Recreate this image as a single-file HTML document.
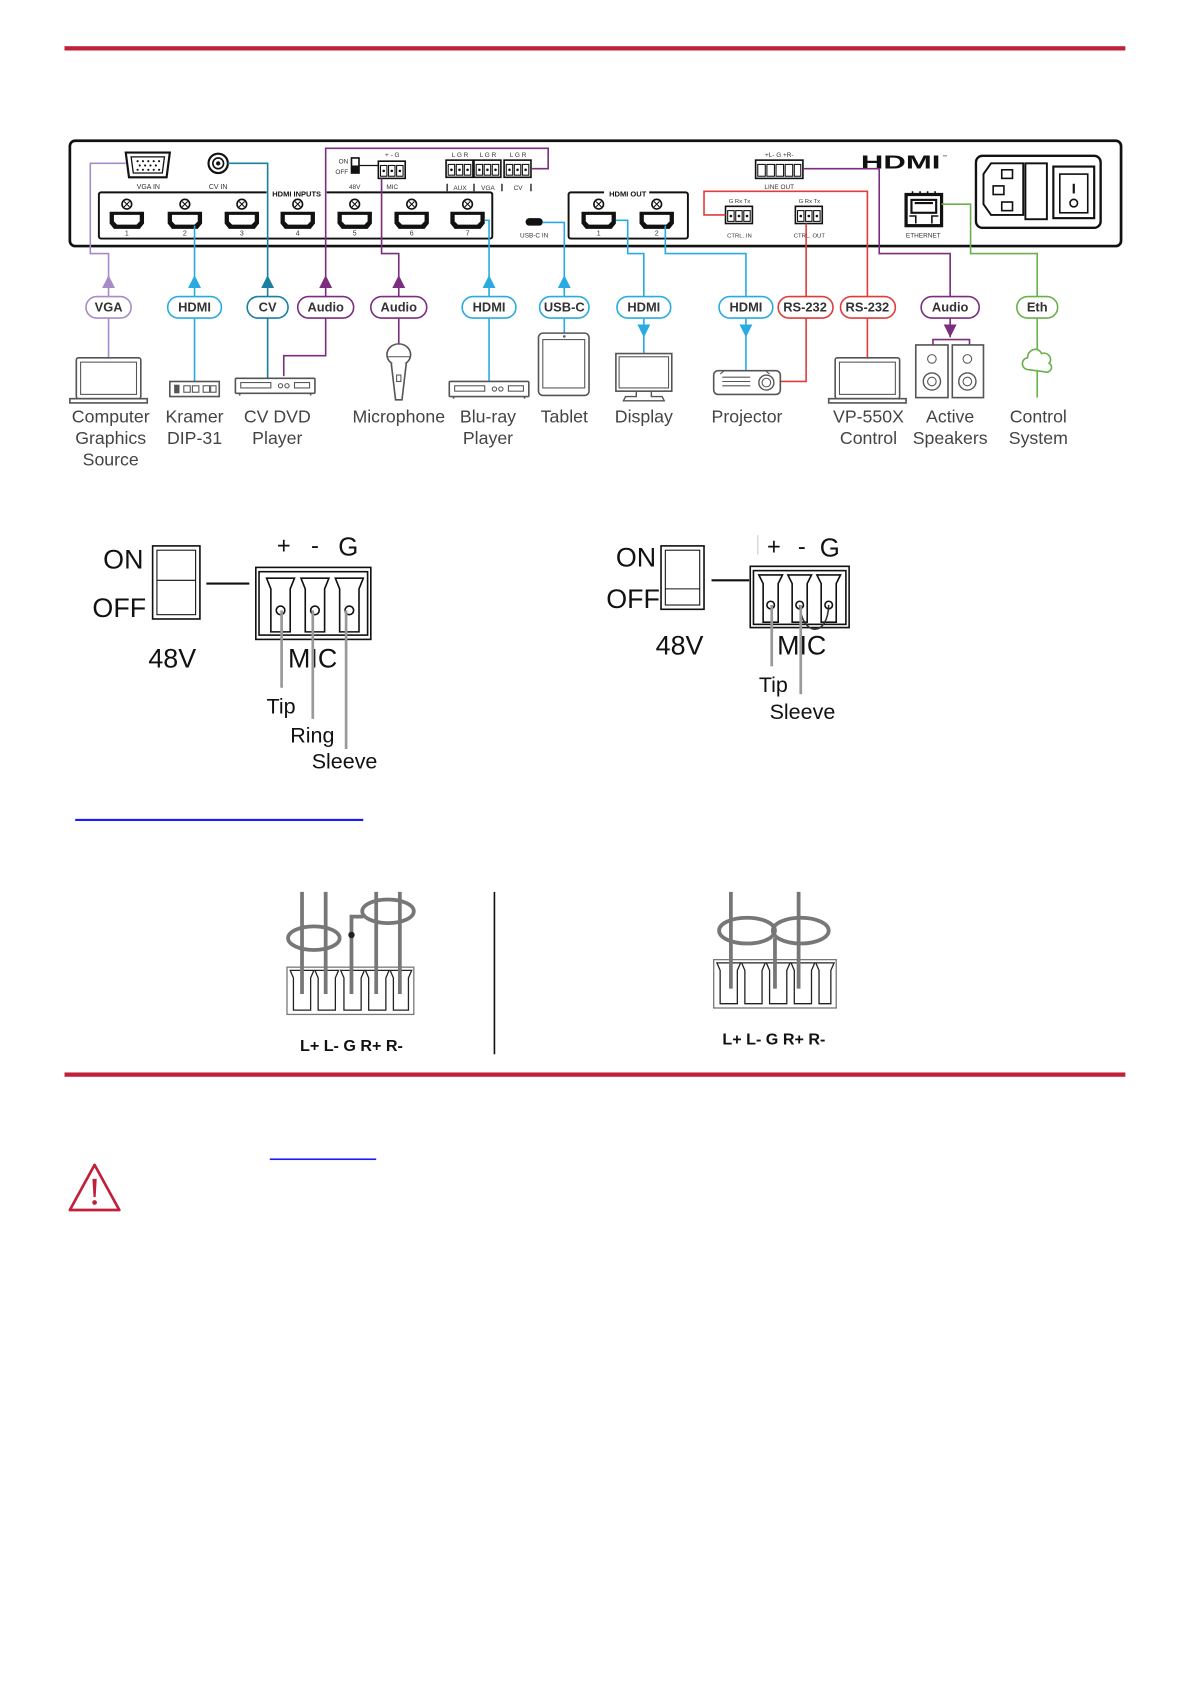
<!DOCTYPE html>
<html><head><meta charset="utf-8"><style>
html,body{margin:0;padding:0;background:#fff;}
svg{display:block;}
text{font-family:"Liberation Sans",sans-serif;}
</style></head><body>
<svg width="1192" height="1685" viewBox="0 0 1109 1568" preserveAspectRatio="none" xmlns="http://www.w3.org/2000/svg">
<defs>
<g id="hp"><path d="M-16,-8 H16 V3 L12,8 H-12 L-16,3 Z" fill="#111"/><path d="M-12,-5 H12 V1 L9,4 H-9 L-12,1 Z" fill="#fff"/><circle cx="0" cy="-15" r="4.5" fill="#fff" stroke="#111" stroke-width="1.5"/><path d="M-2.5,-17.5 L2.5,-12.5 M2.5,-17.5 L-2.5,-12.5" stroke="#111" stroke-width="1"/></g>
<g id="tb3"><rect x="0" y="0" width="25" height="16" fill="#fff" stroke="#111" stroke-width="1.5"/><rect x="2" y="4" width="6" height="10" fill="none" stroke="#111"/><rect x="9.5" y="4" width="6" height="10" fill="none" stroke="#111"/><rect x="17" y="4" width="6" height="10" fill="none" stroke="#111"/><circle cx="5" cy="9" r="1.2" fill="#111"/><circle cx="12.5" cy="9" r="1.2" fill="#111"/><circle cx="20" cy="9" r="1.2" fill="#111"/></g>
<g id="laptop"><rect x="-30" y="0" width="60" height="38" rx="2" fill="#fff" stroke="#555" stroke-width="1.5"/><rect x="-26" y="4" width="52" height="30" fill="#fff" stroke="#555"/><path d="M-36,38 H36 V42 H-36 Z" fill="#fff" stroke="#555" stroke-width="1.5"/></g>
<g id="player"><rect x="-37" y="0" width="74" height="14" rx="1" fill="#fff" stroke="#555" stroke-width="1.5"/><rect x="-32" y="4" width="28" height="5" fill="none" stroke="#555"/><circle cx="5" cy="7" r="2" fill="none" stroke="#555"/><circle cx="11" cy="7" r="2" fill="none" stroke="#555"/><rect x="18" y="4" width="14" height="5" fill="none" stroke="#555"/><path d="M-33,14 v2 M33,14 v2" stroke="#555" stroke-width="1.5"/></g>
</defs>

<rect x="60" y="43" width="987" height="4" fill="#c0203a"/>

<rect x="65" y="131" width="978" height="98" rx="5" fill="#fff" stroke="#111" stroke-width="2.5"/>
<path d="M117,142 H158 L155,165 H120 Z" fill="#fff" stroke="#111" stroke-width="2"/>
<path d="M122,146 H153 L151,161 H124 Z" fill="#fff" stroke="#111" stroke-width="1.2"/>
<g fill="#111"><circle cx="128" cy="150" r="1"/><circle cx="133" cy="150" r="1"/><circle cx="138" cy="150" r="1"/><circle cx="143" cy="150" r="1"/><circle cx="148" cy="150" r="1"/><circle cx="130" cy="154" r="1"/><circle cx="135" cy="154" r="1"/><circle cx="140" cy="154" r="1"/><circle cx="145" cy="154" r="1"/><circle cx="128" cy="158" r="1"/><circle cx="133" cy="158" r="1"/><circle cx="138" cy="158" r="1"/><circle cx="143" cy="158" r="1"/><circle cx="148" cy="158" r="1"/></g>
<text x="138" y="176" font-size="6.5" text-anchor="middle" fill="#333">VGA IN</text>
<circle cx="203" cy="152" r="9" fill="#fff" stroke="#111" stroke-width="2"/><circle cx="203" cy="152" r="5" fill="none" stroke="#111" stroke-width="1.5"/><circle cx="203" cy="152" r="2" fill="#111"/>
<text x="203" y="176" font-size="6.5" text-anchor="middle" fill="#333">CV IN</text>
<rect x="92" y="179" width="366" height="43" rx="2" fill="none" stroke="#111" stroke-width="1.8"/>
<rect x="248" y="175" width="56" height="9" fill="#fff"/>
<text x="276" y="183" font-size="7" font-weight="bold" text-anchor="middle" fill="#111">HDMI INPUTS</text>
<use href="#hp" x="118" y="205"/><use href="#hp" x="172" y="205"/><use href="#hp" x="225" y="205"/><use href="#hp" x="277" y="205"/><use href="#hp" x="330" y="205"/><use href="#hp" x="383" y="205"/><use href="#hp" x="435" y="205"/>
<g font-size="6.5" text-anchor="middle" fill="#333"><text x="118" y="219">1</text><text x="172" y="219">2</text><text x="225" y="219">3</text><text x="277" y="219">4</text><text x="330" y="219">5</text><text x="383" y="219">6</text><text x="435" y="219">7</text></g>
<rect x="327" y="147" width="7" height="14" fill="#fff" stroke="#111" stroke-width="1.5"/><rect x="327" y="154" width="7" height="7" fill="#111"/>
<text x="324" y="152" font-size="6" text-anchor="end" fill="#333">ON</text><text x="324" y="162" font-size="6" text-anchor="end" fill="#333">OFF</text>
<line x1="334" y1="154" x2="352" y2="154" stroke="#111" stroke-width="1.2"/>
<text x="330" y="176" font-size="6" text-anchor="middle" fill="#333">48V</text>
<use href="#tb3" x="352" y="150"/>
<text x="365" y="146" font-size="6" text-anchor="middle" fill="#333">+  -  G</text>
<text x="365" y="176" font-size="6" text-anchor="middle" fill="#333">MIC</text>
<use href="#tb3" x="415" y="149"/><use href="#tb3" x="441" y="149"/><use href="#tb3" x="469" y="149"/>
<g font-size="6" text-anchor="middle" fill="#333"><text x="428" y="146">L G R</text><text x="454" y="146">L G R</text><text x="482" y="146">L G R</text><text x="428" y="177">AUX</text><text x="454" y="177">VGA</text><text x="482" y="177">CV</text></g>
<path d="M416,171v7 M441,171v7 M467,171v7 M494,171v7" stroke="#111" stroke-width="1.2"/>
<rect x="489" y="203" width="16" height="7" rx="3.5" fill="#111"/>
<text x="497" y="221" font-size="6" text-anchor="middle" fill="#333">USB-C IN</text>
<rect x="529" y="179" width="111" height="43" rx="2" fill="none" stroke="#111" stroke-width="1.8"/>
<rect x="562" y="175" width="42" height="9" fill="#fff"/>
<text x="584" y="183" font-size="7" font-weight="bold" text-anchor="middle" fill="#111">HDMI OUT</text>
<use href="#hp" x="557" y="205"/><use href="#hp" x="611" y="205"/>
<text x="557" y="219" font-size="6.5" text-anchor="middle" fill="#333">1</text><text x="611" y="219" font-size="6.5" text-anchor="middle" fill="#333">2</text>
<use href="#tb3" x="675" y="192"/><use href="#tb3" x="740" y="192"/>
<g font-size="5.5" text-anchor="middle" fill="#333"><text x="688" y="189">G Rx Tx</text><text x="753" y="189">G Rx Tx</text><text x="688" y="221">CTRL. IN</text><text x="753" y="221">CTRL. OUT</text></g>
<rect x="703" y="149" width="44" height="17" fill="#fff" stroke="#111" stroke-width="1.5"/>
<g fill="none" stroke="#111"><rect x="705" y="153" width="7" height="11"/><rect x="713.5" y="153" width="7" height="11"/><rect x="722" y="153" width="7" height="11"/><rect x="730.5" y="153" width="7" height="11"/><rect x="739" y="153" width="6" height="11"/></g>
<text x="725" y="146" font-size="6" text-anchor="middle" fill="#333">+L-  G  +R-</text>
<text x="725" y="176" font-size="6" text-anchor="middle" fill="#333">LINE OUT</text>
<text x="801" y="157" font-size="17" font-weight="bold" fill="#111" textLength="74" lengthAdjust="spacingAndGlyphs">HDMI</text>
<text x="877" y="147" font-size="4" fill="#111">™</text>
<rect x="843" y="181" width="33" height="29" fill="#fff" stroke="#111" stroke-width="3"/>
<rect x="848" y="186" width="23" height="12" fill="#fff" stroke="#111" stroke-width="2"/><path d="M851,189 H868" stroke="#111" stroke-width="2"/>
<path d="M846,201 H852 V208 M873,201 H867 V208" fill="none" stroke="#111" stroke-width="1.5"/>
<path d="M849,178 v3 M856,178 v3 M863,178 v3 M870,178 v3" stroke="#111" stroke-width="1.5"/>
<text x="859" y="221" font-size="6" text-anchor="middle" fill="#333">ETHERNET</text>
<rect x="908" y="145" width="116" height="67" rx="6" fill="#fff" stroke="#111" stroke-width="2.2"/>
<path d="M922,152 H952 V200 H922 L915,190 V162 Z" fill="#fff" stroke="#111" stroke-width="1.8"/>
<rect x="932" y="158" width="10" height="8" fill="#fff" stroke="#111" stroke-width="1.5"/><rect x="924" y="173" width="10" height="8" fill="#fff" stroke="#111" stroke-width="1.5"/><rect x="932" y="188" width="10" height="8" fill="#fff" stroke="#111" stroke-width="1.5"/>
<rect x="954" y="152" width="20" height="52" fill="#fff" stroke="#111" stroke-width="1.8"/>
<rect x="980" y="155" width="38" height="48" fill="#fff" stroke="#111" stroke-width="2"/><rect x="986" y="162" width="26" height="36" fill="#fff" stroke="#111" stroke-width="1.5"/><line x1="999" y1="171" x2="999" y2="180" stroke="#111" stroke-width="2"/><circle cx="999" cy="189" r="3.5" fill="none" stroke="#111" stroke-width="1.5"/>

<g fill="none" stroke-width="1.5">
<path d="M117,152 H84 V236 H101 V333" stroke="#a78bc9"/>
<path d="M181,210 V355" stroke="#29abe2"/>
<path d="M212,152 H249 V352" stroke="#1a7fa0"/>
<path d="M495,157 H510 V138 H303 V331 H264 V350" stroke="#7b2d7f"/>
<path d="M355,166 V236 H371 V320" stroke="#7b2d7f"/>
<path d="M451,205 H455 V355" stroke="#29abe2"/>
<path d="M505,207 H525 V310" stroke="#29abe2"/>
<path d="M573,205 H584 V236 H599 V329" stroke="#29abe2"/>
<path d="M619,210 V236 H694 V345" stroke="#29abe2"/>
<path d="M750,208 V355 H726" stroke="#e03c3c"/>
<path d="M675,200 H655 V178 H807 V333" stroke="#e03c3c"/>
<path d="M747,157 H818 V236 H884 V314" stroke="#7b2d7f"/>
<path d="M876,190 H903 V236 H965 V370" stroke="#6ab04c"/>
</g>
<g>
<path d="M95,268 L101,256 L107,268 Z" fill="#a78bc9"/>
<path d="M175,268 L181,256 L187,268 Z" fill="#29abe2"/>
<path d="M243,268 L249,256 L255,268 Z" fill="#1a7fa0"/>
<path d="M297,268 L303,256 L309,268 Z" fill="#7b2d7f"/>
<path d="M365,268 L371,256 L377,268 Z" fill="#7b2d7f"/>
<path d="M449,268 L455,256 L461,268 Z" fill="#29abe2"/>
<path d="M519,268 L525,256 L531,268 Z" fill="#29abe2"/>
<path d="M593,302 L599,314 L605,302 Z" fill="#29abe2"/>
<path d="M688,302 L694,314 L700,302 Z" fill="#29abe2"/>
<path d="M878,302 L884,314 L890,302 Z" fill="#7b2d7f"/>
</g>
<g stroke-width="1.5" fill="#fff">
<rect x="80" y="276" width="42" height="20" rx="10" stroke="#a78bc9"/>
<rect x="156" y="276" width="50" height="20" rx="10" stroke="#29abe2"/>
<rect x="230" y="276" width="38" height="20" rx="10" stroke="#1a7fa0"/>
<rect x="277" y="276" width="52" height="20" rx="10" stroke="#7b2d7f"/>
<rect x="345" y="276" width="52" height="20" rx="10" stroke="#7b2d7f"/>
<rect x="430" y="276" width="50" height="20" rx="10" stroke="#29abe2"/>
<rect x="502" y="276" width="46" height="20" rx="10" stroke="#29abe2"/>
<rect x="574" y="276" width="50" height="20" rx="10" stroke="#29abe2"/>
<rect x="669" y="276" width="50" height="20" rx="10" stroke="#29abe2"/>
<rect x="724" y="276" width="51" height="20" rx="10" stroke="#e03c3c"/>
<rect x="782" y="276" width="51" height="20" rx="10" stroke="#e03c3c"/>
<rect x="857" y="276" width="54" height="20" rx="10" stroke="#7b2d7f"/>
<rect x="946" y="276" width="38" height="20" rx="10" stroke="#6ab04c"/>
</g>
<g font-size="12" font-weight="bold" text-anchor="middle" fill="#333">
<text x="101" y="290">VGA</text><text x="181" y="290">HDMI</text><text x="249" y="290">CV</text><text x="303" y="290">Audio</text><text x="371" y="290">Audio</text><text x="455" y="290">HDMI</text><text x="525" y="290">USB-C</text><text x="599" y="290">HDMI</text><text x="694" y="290">HDMI</text><text x="749" y="290">RS-232</text><text x="807" y="290">RS-232</text><text x="884" y="290">Audio</text><text x="965" y="290">Eth</text>
</g>

<use href="#laptop" x="101" y="333"/>
<rect x="158" y="355" width="46" height="14" fill="#fff" stroke="#555" stroke-width="1.5"/><rect x="162" y="358" width="5" height="8" fill="#555"/><rect x="171" y="359" width="6" height="6" fill="none" stroke="#555"/><rect x="179" y="359" width="6" height="6" fill="none" stroke="#555"/><rect x="189" y="359" width="6" height="6" fill="none" stroke="#555"/><rect x="196" y="359" width="5" height="6" fill="none" stroke="#555"/>
<use href="#player" x="256" y="352"/>
<ellipse cx="371" cy="330" rx="11" ry="10" fill="#fff" stroke="#555" stroke-width="1.5"/><path d="M360,332 H382" stroke="#555"/><path d="M364,338 L368,372 H374 L378,338" fill="#fff" stroke="#555" stroke-width="1.5"/><rect x="369" y="349" width="4" height="6" fill="none" stroke="#555"/>
<use href="#player" x="455" y="355"/>
<rect x="501" y="310" width="47" height="58" rx="4" fill="#fff" stroke="#555" stroke-width="1.5"/><rect x="505" y="316" width="39" height="45" fill="none" stroke="#555"/><circle cx="525" cy="313" r="1.2" fill="#555"/>
<rect x="573" y="329" width="52" height="35" fill="#fff" stroke="#555" stroke-width="1.5"/><rect x="576" y="332" width="46" height="29" fill="none" stroke="#555"/><path d="M592,364 V369 H582 L580,373 H618 L616,369 H606 V364" fill="none" stroke="#555" stroke-width="1.3"/>
<rect x="664" y="345" width="62" height="22" rx="4" fill="#fff" stroke="#555" stroke-width="1.5"/><circle cx="713" cy="356" r="7" fill="none" stroke="#555" stroke-width="1.3"/><circle cx="713" cy="356" r="4" fill="none" stroke="#555"/><path d="M672,351 H698 M672,355 H698 M672,359 H698" stroke="#555"/><path d="M670,348 L674,345 H712 L716,348" fill="none" stroke="#555"/>
<use href="#laptop" x="807" y="333"/>
<path d="M868,321 V316 H902 V321" fill="none" stroke="#7b2d7f" stroke-width="1.5"/>
<rect x="852" y="321" width="30" height="49" fill="#fff" stroke="#555" stroke-width="1.5"/><rect x="886" y="321" width="29" height="49" fill="#fff" stroke="#555" stroke-width="1.5"/>
<circle cx="867" cy="334" r="4" fill="none" stroke="#555"/><circle cx="867" cy="355" r="8" fill="none" stroke="#555" stroke-width="1.3"/><circle cx="867" cy="355" r="4" fill="none" stroke="#555"/>
<circle cx="900" cy="334" r="4" fill="none" stroke="#555"/><circle cx="900" cy="355" r="8" fill="none" stroke="#555" stroke-width="1.3"/><circle cx="900" cy="355" r="4" fill="none" stroke="#555"/>
<path d="M957,344 C950,344 949,334 956,333 C956,325 966,322 969,329 C975,327 980,334 976,338 C981,341 977,348 972,346 Z" fill="#fff" stroke="#6ab04c" stroke-width="1.5"/>

<g font-size="16.5" text-anchor="middle" fill="#444">
<text x="103" y="393">Computer</text><text x="103" y="413">Graphics</text><text x="103" y="433">Source</text>
<text x="181" y="393">Kramer</text><text x="181" y="413">DIP-31</text>
<text x="258" y="393">CV DVD</text><text x="258" y="413">Player</text>
<text x="371" y="393">Microphone</text>
<text x="454" y="393">Blu-ray</text><text x="454" y="413">Player</text>
<text x="525" y="393">Tablet</text>
<text x="599" y="393">Display</text>
<text x="695" y="393">Projector</text>
<text x="808" y="393">VP-550X</text><text x="808" y="413">Control</text>
<text x="884" y="393">Active</text><text x="884" y="413">Speakers</text>
<text x="966" y="393">Control</text><text x="966" y="413">System</text>
</g>

<g font-size="25" fill="#111">
<text x="96" y="529">ON</text><text x="86" y="574">OFF</text><text x="138" y="621">48V</text><text x="268" y="621">MIC</text>
</g>
<text x="264" y="515" font-size="22" text-anchor="middle" fill="#111">+</text><text x="293" y="515" font-size="22" text-anchor="middle" fill="#111">-</text><text x="324" y="517" font-size="24" text-anchor="middle" fill="#111">G</text>
<rect x="142" y="508" width="44" height="68" fill="#fff" stroke="#111" stroke-width="1.5"/><rect x="146" y="512" width="36" height="60" fill="none" stroke="#111"/><line x1="146" y1="540" x2="182" y2="540" stroke="#111"/>
<line x1="192" y1="543" x2="232" y2="543" stroke="#111" stroke-width="2"/>
<rect x="238" y="528" width="107" height="67" fill="#fff" stroke="#111" stroke-width="1.5"/><rect x="241" y="532" width="101" height="59" fill="none" stroke="#111" stroke-width="1.5"/>
<g fill="none" stroke="#111" stroke-width="1.5">
<path d="M248,538 H274 L270,548 V588 H252 V548 Z"/><path d="M280,538 H306 L302,548 V588 H284 V548 Z"/><path d="M312,538 H338 L334,548 V588 H316 V548 Z"/>
<circle cx="261" cy="568" r="4"/><circle cx="293" cy="568" r="4"/><circle cx="325" cy="568" r="4"/>
</g>
<g stroke="#999" stroke-width="2.5"><line x1="262" y1="568" x2="262" y2="640"/><line x1="291" y1="568" x2="291" y2="669"/><line x1="322" y1="568" x2="322" y2="697"/></g>
<g font-size="20" fill="#111"><text x="248" y="664">Tip</text><text x="270" y="691">Ring</text><text x="290" y="715">Sleeve</text></g>

<g font-size="25" fill="#111"><text x="573" y="527">ON</text><text x="564" y="566">OFF</text><text x="610" y="609">48V</text><text x="723" y="609">MIC</text></g>
<text x="720" y="516" font-size="22" text-anchor="middle" fill="#111">+</text><text x="746" y="516" font-size="22" text-anchor="middle" fill="#111">-</text><text x="772" y="518" font-size="24" text-anchor="middle" fill="#111">G</text>
<line x1="705" y1="498" x2="705" y2="516" stroke="#ccc"/>
<rect x="615" y="508" width="40" height="59" fill="#fff" stroke="#111" stroke-width="1.5"/><rect x="619" y="512" width="32" height="51" fill="none" stroke="#111"/><line x1="619" y1="548" x2="651" y2="548" stroke="#111"/>
<line x1="662" y1="540" x2="697" y2="540" stroke="#111" stroke-width="2"/>
<rect x="698" y="527" width="92" height="57" fill="#fff" stroke="#111" stroke-width="1.5"/><rect x="701" y="531" width="86" height="50" fill="none" stroke="#111" stroke-width="1.5"/>
<g fill="none" stroke="#111" stroke-width="1.5">
<path d="M706,535 H728 L724,543 V579 H710 V543 Z"/><path d="M733,535 H755 L751,543 V579 H737 V543 Z"/><path d="M760,535 H782 L778,543 V579 H764 V543 Z"/>
<circle cx="717" cy="563" r="3.5"/><circle cx="744" cy="563" r="3.5"/><circle cx="771" cy="563" r="3.5"/>
<path d="M744,563 C746,592 770,594 771,563" stroke="#333"/>
</g>
<g stroke="#999" stroke-width="2.5"><line x1="718" y1="563" x2="718" y2="620"/><line x1="745" y1="563" x2="745" y2="646"/></g>
<g font-size="20" fill="#111"><text x="706" y="644">Tip</text><text x="716" y="669">Sleeve</text></g>

<rect x="70" y="762" width="268" height="2" fill="#1a1aff"/>

<line x1="460" y1="830" x2="460" y2="981" stroke="#111" stroke-width="1.5"/>
<rect x="267" y="900" width="118" height="44" fill="#fff" stroke="#777" stroke-width="1.2"/>
<g fill="none" stroke="#222" stroke-width="1.2">
<path d="M270,903 H292 L289,910 V940 H273 V910 Z"/><path d="M293,903 H315 L312,910 V940 H296 V910 Z"/><path d="M317,903 H339 L336,910 V940 H320 V910 Z"/><path d="M340,903 H362 L359,910 V940 H343 V910 Z"/><path d="M363,903 H383 L380,910 V940 H366 V910 Z"/>
</g>
<g stroke="#777" stroke-width="3.5" fill="none">
<line x1="281" y1="830" x2="281" y2="925"/><line x1="303" y1="830" x2="303" y2="925"/><line x1="350" y1="830" x2="350" y2="925"/><line x1="372" y1="830" x2="372" y2="925"/>
<path d="M327,925 V853 H338"/>
<ellipse cx="292" cy="873" rx="24" ry="11"/><ellipse cx="361" cy="848" rx="24" ry="11"/>
</g>
<circle cx="327" cy="870" r="3" fill="#222"/>
<text x="327" y="978" font-size="15" font-weight="bold" text-anchor="middle" fill="#111">L+ L-  G  R+ R-</text>

<rect x="664" y="893" width="114" height="45" fill="#fff" stroke="#777" stroke-width="1.2"/>
<g fill="none" stroke="#222" stroke-width="1.2">
<path d="M667,896 H689 L686,903 V934 H670 V903 Z"/><path d="M690,896 H712 L709,903 V934 H693 V903 Z"/><path d="M713,896 H735 L732,903 V934 H716 V903 Z"/><path d="M736,896 H758 L755,903 V934 H739 V903 Z"/><path d="M759,896 H776 L773,903 V934 H762 V903 Z"/>
</g>
<g stroke="#777" stroke-width="3.5" fill="none">
<line x1="680" y1="830" x2="680" y2="920"/><line x1="743" y1="830" x2="743" y2="920"/><line x1="721" y1="873" x2="721" y2="920"/>
<ellipse cx="695" cy="866" rx="26" ry="12"/><ellipse cx="745" cy="866" rx="26" ry="12"/>
</g>
<text x="720" y="972" font-size="15" font-weight="bold" text-anchor="middle" fill="#111">L+ L-  G  R+ R-</text>

<rect x="60" y="998" width="987" height="4" fill="#c0203a"/>

<rect x="251" y="1078" width="99" height="1.5" fill="#1a1aff"/>
<path d="M88,1084 L111,1126 H65 Z" fill="none" stroke="#c0203a" stroke-width="2.5" stroke-linejoin="round"/>
<path d="M86,1097 H90 L89,1114 H87 Z" fill="#c0203a"/><circle cx="88" cy="1119" r="2.2" fill="#c0203a"/>
</svg>
</body></html>
